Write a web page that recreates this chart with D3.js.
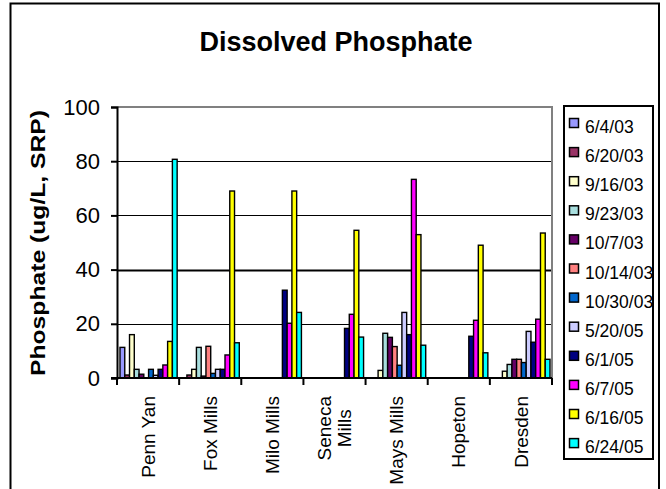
<!DOCTYPE html>
<html>
<head>
    <meta charset="UTF-8">
    <title>Dissolved Phosphate</title>
    <script src="https://d3js.org/d3.v7.min.js"></script>
    <style>
        body { margin: 0; background: #fff; }
        text { font-family: "Liberation Sans", Arial, sans-serif; fill: #000; }
    </style>
</head>
<body>
    <svg class="chart"></svg>

    <script>
    // sites along the x axis
    const sites = ["Penn Yan", "Fox Mills", "Milo Mills", "Seneca Mills", "Mays Mills", "Hopeton", "Dresden"];

    // sampling dates (legend order)
    const dates = ["6/4/03", "6/20/03", "9/16/03", "9/23/03", "10/7/03", "10/14/03",
                   "10/30/03", "5/20/05", "6/1/05", "6/7/05", "6/16/05", "6/24/05"];

    const colors = ["#9999ff", "#993366", "#ffffcc", "#a8dede", "#660066", "#ff8080",
                    "#0066cc", "#ccccff", "#000080", "#ff00ff", "#ffff00", "#00ffff"];

    // one value per date, null = no sample
    const pennYan     = [11.3, 1.1, 16, 3.2, 1.4, null, 3.2, 1.0, 3.2, 4.8, 13.5, 80.7];
    const foxMills    = [null, 1.1, 3.2, 11.3, 0.7, 11.7, 1.7, 3.2, 3.2, 8.5, 69, 13];
    const miloMills   = [null, null, null, null, null, null, null, null, 32.4, 20.2, 69, 24.2];
    const senecaMills = [null, null, null, null, null, null, null, null, 18.3, 23.5, 54.5, 15.1];
    const maysMills   = [null, null, 2.8, 16.5, 15, 11.6, 4.7, 24.2, 16, 73.3, 52.9, 12.1];
    const hopeton     = [null, null, null, null, null, null, null, null, 15.4, 21.3, 49, 9.3];
    const dresden     = [null, null, 2.5, 5, 6.9, 6.9, 5.7, 17.2, 13.2, 21.7, 53.5, 6.9];

    const yTicks = [0, 20, 40, 60, 80, 100];

    const values = [pennYan, foxMills, miloMills, senecaMills, maysMills, hopeton, dresden];

    const width = 666;
    const height = 489;
    const plot = {left: 117, right: 552, top: 107, bottom: 378};

    const svg = d3.select(".chart")
        .attr("width", width)
        .attr("height", height);

    // outer frame (bottom edge is cut off)
    svg.append("path")
        .attr("d", `M10.5,${height + 5} V3.5 H659 V${height + 5}`)
        .style("fill", "none")
        .style("stroke", "black")
        .style("stroke-width", 2);

    // title
    svg.append("text")
        .attr("x", 336)
        .attr("y", 51)
        .attr("text-anchor", "middle")
        .style("font-size", "27px")
        .style("font-weight", "bold")
        .text("Dissolved Phosphate");

    const x0 = d3.scaleBand()
        .domain(sites)
        .range([plot.left, plot.right]);

    const x1 = d3.scaleBand()
        .domain(d3.range(dates.length))
        .range([3, x0.bandwidth() - 2]);

    const y = d3.scaleLinear()
        .domain([0, 100])
        .range([plot.bottom, plot.top]);

    // gridlines (the 40 line is heavier in the original)
    svg.append("g")
        .selectAll("line")
        .data(yTicks.filter(t => t > 0 && t < 100))
        .enter().append("line")
        .attr("x1", plot.left)
        .attr("x2", plot.right)
        .attr("y1", d => Math.round(y(d)) + 0.5)
        .attr("y2", d => Math.round(y(d)) + 0.5)
        .style("stroke", "black")
        .style("stroke-width", d => d === 40 ? 2 : 1);

    // gray plot border on top and right
    svg.append("path")
        .attr("d", `M${plot.left},${plot.top} H${plot.right} V${plot.bottom}`)
        .style("fill", "none")
        .style("stroke", "#808080")
        .style("stroke-width", 2);

    // bars
    const groups = svg.append("g")
        .selectAll("g")
        .data(sites)
        .enter().append("g")
        .attr("transform", d => `translate(${x0(d)},0)`);

    groups.selectAll("rect")
        .data((d, i) => values[i].map((v, j) => ({v: v, j: j})).filter(e => e.v !== null))
        .enter().append("rect")
        .attr("x", d => x1(d.j))
        .attr("y", d => y(d.v))
        .attr("width", x1.bandwidth())
        .attr("height", d => plot.bottom - y(d.v))
        .style("fill", d => colors[d.j])
        .style("stroke", "black")
        .style("stroke-width", 1.4);

    // y axis
    const yAxis = svg.append("g")
        .attr("transform", `translate(${plot.left},0)`)
        .call(d3.axisLeft(y).tickValues(yTicks).tickSize(6).tickPadding(11));
    yAxis.select(".domain").style("stroke-width", 2);
    yAxis.selectAll(".tick line").style("stroke-width", 2);
    yAxis.selectAll(".tick text")
        .style("font-size", "22px")
        .style("font-family", "'Liberation Sans', Arial, sans-serif");

    // x axis: baseline plus ticks between sites
    svg.append("line")
        .attr("x1", plot.left - 6)
        .attr("x2", plot.right)
        .attr("y1", plot.bottom)
        .attr("y2", plot.bottom)
        .style("stroke", "black")
        .style("stroke-width", 2);

    svg.append("g")
        .selectAll("line")
        .data(d3.range(sites.length + 1))
        .enter().append("line")
        .attr("x1", i => plot.left + i * x0.step())
        .attr("x2", i => plot.left + i * x0.step())
        .attr("y1", plot.bottom)
        .attr("y2", plot.bottom + 7)
        .style("stroke", "black")
        .style("stroke-width", 2);

    // site labels, rotated
    sites.forEach(s => {
        const cx = x0(s) + x0.bandwidth() / 2;
        const words = s === "Seneca Mills" ? ["Seneca", "Mills"] : [s];
        const lab = svg.append("g")
            .attr("transform", `translate(${cx},396) rotate(-90)`);
        if (words.length === 1) {
            lab.append("text")
                .attr("dy", "0.35em")
                .attr("text-anchor", "end")
                .style("font-size", "19px")
                .text(s);
        } else {
            const t0 = lab.append("text")
                .attr("text-anchor", "middle")
                .attr("y", -9.75)
                .attr("dy", "0.35em")
                .style("font-size", "19px")
                .text(words[0]);
            const len = t0.node().getComputedTextLength();
            t0.attr("x", -len / 2);
            lab.append("text")
                .attr("text-anchor", "middle")
                .attr("x", -len / 2)
                .attr("y", 9.75)
                .attr("dy", "0.35em")
                .style("font-size", "19px")
                .text(words[1]);
        }
    });

    // y axis title
    svg.append("text")
        .attr("transform", "translate(45,243) rotate(-90)")
        .attr("text-anchor", "middle")
        .attr("textLength", 266)
        .attr("lengthAdjust", "spacingAndGlyphs")
        .style("font-size", "21px")
        .style("font-weight", "bold")
        .text("Phosphate (ug/L, SRP)");

    // legend
    svg.append("rect")
        .attr("x", 564)
        .attr("y", 106)
        .attr("width", 89)
        .attr("height", 353)
        .style("fill", "white")
        .style("stroke", "black")
        .style("stroke-width", 2);

    const legend = svg.append("g")
        .selectAll("g")
        .data(dates)
        .enter().append("g")
        .attr("transform", (d, i) => `translate(569,${133 + i * 29.1})`);

    legend.append("rect")
        .attr("x", 0.5)
        .attr("y", -14.5)
        .attr("width", 9)
        .attr("height", 9)
        .style("fill", (d, i) => colors[i])
        .style("stroke", "black")
        .style("stroke-width", 1.5);

    legend.append("text")
        .attr("x", 16)
        .attr("y", 0)
        .style("font-size", "17.5px")
        .text(d => d);
    </script>
</body>
</html>
